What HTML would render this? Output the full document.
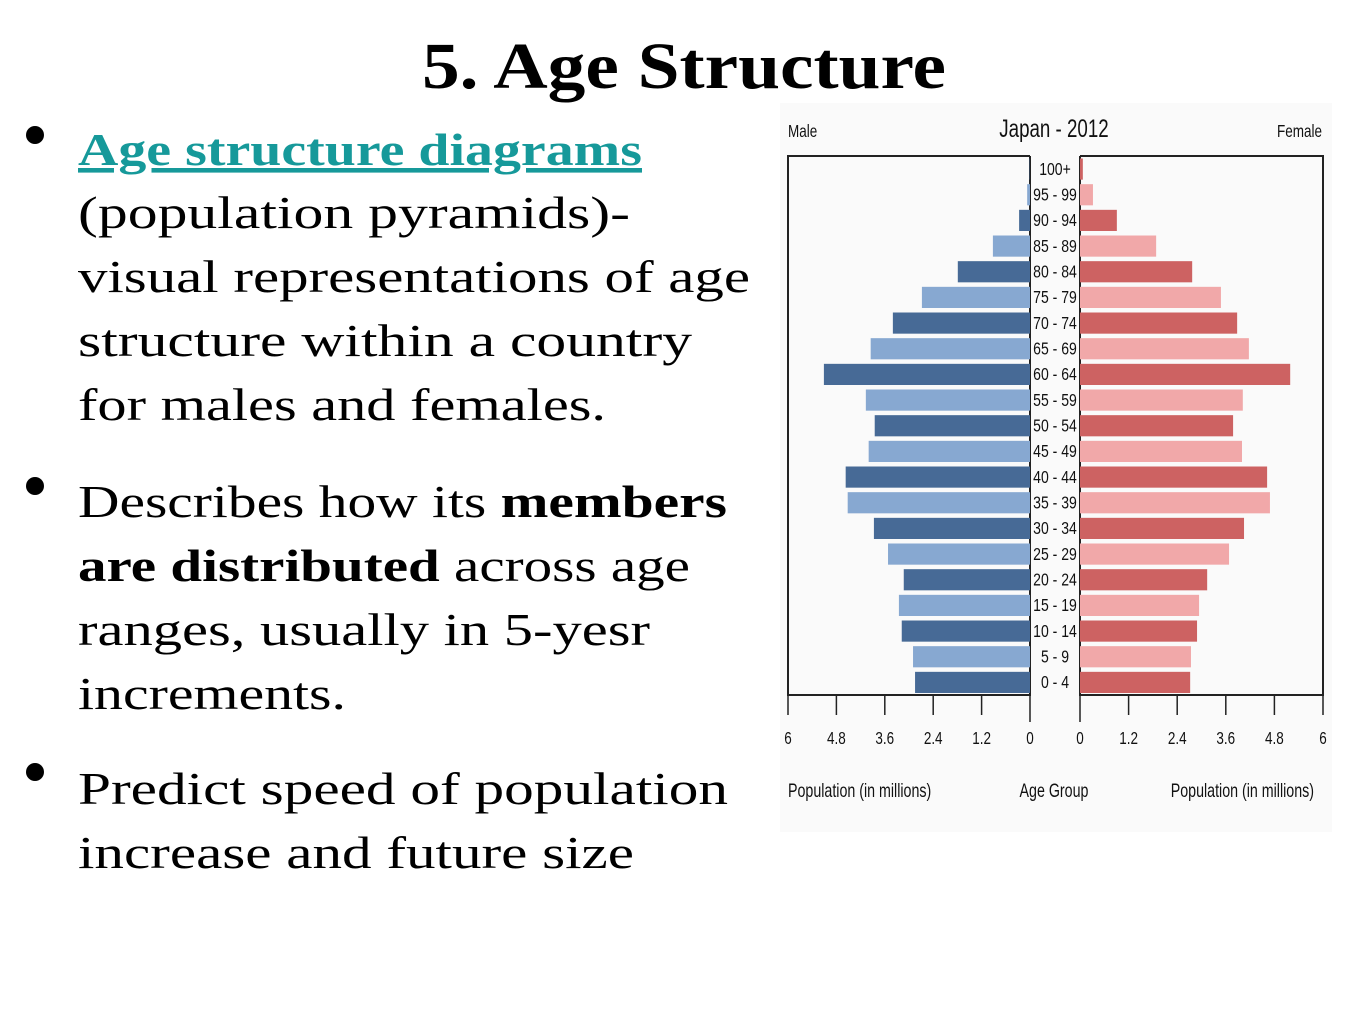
<!DOCTYPE html>
<html><head><meta charset="utf-8"><style>
html,body{margin:0;padding:0;background:#fff;}
svg{display:block;}
.t{font-family:"Liberation Serif",serif;font-size:46px;fill:#000;}
.c{font-family:"Liberation Sans",sans-serif;fill:#111;}
</style></head><body>
<svg id="s" width="1365" height="1024" viewBox="0 0 1365 1024" xmlns="http://www.w3.org/2000/svg">
<text x="422" y="88" class="t" style="font-weight:bold;font-size:66px" textLength="524" lengthAdjust="spacingAndGlyphs">5. Age Structure</text>
<g>
<circle cx="35" cy="135" r="9" fill="#000"/>
<circle cx="35" cy="486" r="9" fill="#000"/>
<circle cx="35" cy="772" r="9" fill="#000"/>
<text x="78" y="165" class="t" style="font-weight:bold;fill:#16999a;text-decoration:underline" textLength="564" lengthAdjust="spacingAndGlyphs">Age structure diagrams</text>
<text x="78" y="228" class="t" textLength="552" lengthAdjust="spacingAndGlyphs">(population pyramids)-</text>
<text x="78" y="292" class="t" textLength="672" lengthAdjust="spacingAndGlyphs">visual representations of age</text>
<text x="78" y="356" class="t" textLength="614" lengthAdjust="spacingAndGlyphs">structure within a country</text>
<text x="78" y="420" class="t" textLength="528" lengthAdjust="spacingAndGlyphs">for males and females.</text>
<text x="78" y="517" class="t" textLength="649" lengthAdjust="spacingAndGlyphs">Describes how its <tspan font-weight="bold">members</tspan></text>
<text x="78" y="581" class="t" textLength="612" lengthAdjust="spacingAndGlyphs"><tspan font-weight="bold">are distributed</tspan> across age</text>
<text x="78" y="645" class="t" textLength="572" lengthAdjust="spacingAndGlyphs">ranges, usually in 5-yesr</text>
<text x="78" y="709" class="t" textLength="268" lengthAdjust="spacingAndGlyphs">increments.</text>
<text x="78" y="804" class="t" textLength="650" lengthAdjust="spacingAndGlyphs">Predict speed of population</text>
<text x="78" y="868" class="t" textLength="556" lengthAdjust="spacingAndGlyphs">increase and future size</text>
</g>
<g id="chart">
<rect x="780" y="103" width="552" height="729" fill="#fafafa"/>
</g>
</svg>
<script>
const ageGroups = ["0 - 4","5 - 9","10 - 14","15 - 19","20 - 24","25 - 29","30 - 34","35 - 39","40 - 44","45 - 49","50 - 54","55 - 59","60 - 64","65 - 69","70 - 74","75 - 79","80 - 84","85 - 89","90 - 94","95 - 99","100+"];
const maleValues = [2.85,2.9,3.18,3.25,3.13,3.52,3.87,4.52,4.57,4.0,3.85,4.07,5.11,3.95,3.4,2.68,1.79,0.92,0.27,0.07,0.01];
const femaleValues = [2.72,2.74,2.89,2.94,3.14,3.68,4.05,4.69,4.62,4.0,3.78,4.02,5.19,4.17,3.88,3.48,2.77,1.88,0.91,0.32,0.07];
const tickValues = [0,1.2,2.4,3.6,4.8,6];
const tickLabels = ["0","1.2","2.4","3.6","4.8","6"];
const NS="http://www.w3.org/2000/svg";
const g=document.getElementById('chart');
function mk(t,a,p){const e=document.createElementNS(NS,t);for(const k in a)e.setAttribute(k,a[k]);(p||g).appendChild(e);return e;}
const maxV=6, mL=788, m0=1030, f0=1080, fR=1323, topY=156, botY=695;
function xMale(v){return m0-(v/maxV)*(m0-mL);}
function xFemale(v){return f0+(v/maxV)*(fR-f0);}
const rowH=(botY-topY)/ageGroups.length;
function yRow(i){return botY-(i+1)*rowH;}
let p=mk('path',{d:`M${m0},${topY} H${mL} V${botY} H${m0} V${topY}`,fill:'none',stroke:'#222','stroke-width':2});


p=mk('path',{d:`M${f0},${topY} H${fR} V${botY} H${f0} V${topY}`,fill:'none',stroke:'#222','stroke-width':2});


ageGroups.forEach((a,i)=>{
  const y=yRow(i)+2.5, h=rowH-4.5, dark=(i%2===0);
  let r=mk('rect',{x:xMale(maleValues[i]),y:y,width:m0-xMale(maleValues[i]),height:h,fill:dark?'#476a96':'#87a8d1'});
  
  
  r=mk('rect',{x:f0,y:y,width:xFemale(femaleValues[i])-f0,height:h,fill:dark?'#cd6262':'#f1a8a9'});
  
  
  const t=mk('text',{x:1055,y:yRow(i)+rowH/2+6,'text-anchor':'middle','font-size':18,class:'c',transform:`translate(1055,0) scale(0.78,1) translate(-1055,0)`});
  t.textContent=a;
  
  
});
tickValues.forEach((v,i)=>{
  [xMale(v),xFemale(v)].forEach((x,k)=>{
    const l=mk('line',{x1:x,y1:botY,x2:x,y2:(v===0?722:715),stroke:'#222','stroke-width':1.5});
    
    
    const t=mk('text',{x:x,y:744,'text-anchor':'middle','font-size':18,class:'c',transform:`translate(${x},0) scale(0.75,1) translate(${-x},0)`});
    t.textContent=tickLabels[i];
    
    
  });
});
function label(txt,x,y,size,anchor,name){
  const t=mk('text',{x:x,y:y,'text-anchor':anchor,'font-size':size,class:'c',transform:`translate(${x},0) scale(0.75,1) translate(${-x},0)`});
  t.textContent=txt;
  
  
}
label('Male',788,137,18,'start','male-label');
label('Female',1322,137,18,'end','female-label');
label('Japan - 2012',1054,137,25,'middle','chart-title');
label('Population (in millions)',788,797,19,'start','male-x-axis-title');
label('Age Group',1054,797,19,'middle','age-group-title');
label('Population (in millions)',1314,797,19,'end','female-x-axis-title');
</script>
</body></html>
